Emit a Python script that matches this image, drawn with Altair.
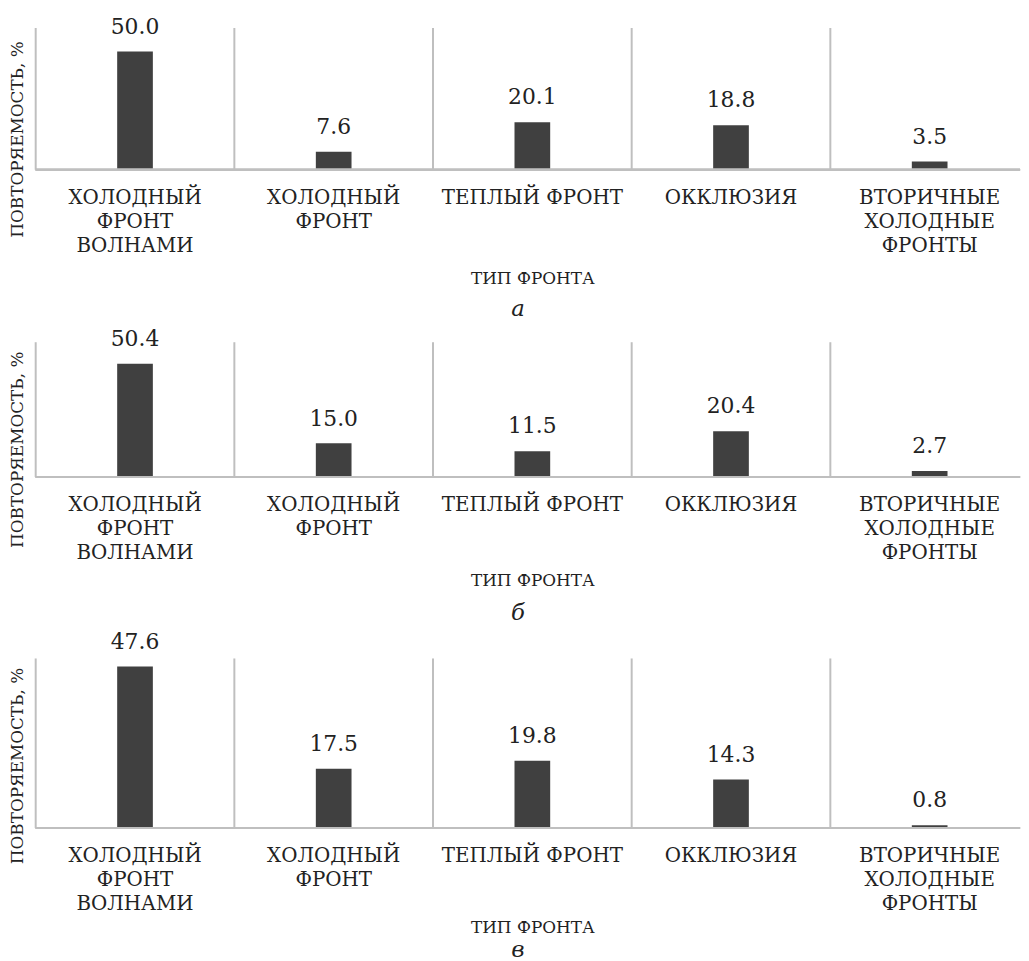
import altair as alt
import pandas as pd

categories = [
    "ХОЛОДНЫЙ\nФРОНТ\nВОЛНАМИ",
    "ХОЛОДНЫЙ\nФРОНТ",
    "ТЕПЛЫЙ ФРОНТ",
    "ОККЛЮЗИЯ",
    "ВТОРИЧНЫЕ\nХОЛОДНЫЕ\nФРОНТЫ",
]
values_a = [50.0, 7.6, 20.1, 18.8, 3.5]
values_b = [50.4, 15.0, 11.5, 20.4, 2.7]
values_c = [47.6, 17.5, 19.8, 14.3, 0.8]
panel_letters = ["а", "б", "в"]
y_max = [60, 60, 50]
heights = [143, 136, 171]
title_y = [112, 108, 108]
x_title_pad = [16, 10, 6]
letter_offset = [12, 14, 4]

FONT = "DejaVu Serif"
TXT = "#222222"
GRID = "#bfbfbf"
BAR = "#404040"
W = 993


def panel(vals, letter, ymax, h, ty, xtp, lo):
    df = pd.DataFrame({
        "cat": categories,
        "val": vals,
        "label": [f"{v:.1f}" for v in vals],
    })
    xsc = alt.Scale(domain=categories, range=[0, 1002], paddingInner=0, paddingOuter=0)
    ysc = alt.Scale(domain=[0, ymax], nice=False)
    x = alt.X(
        "cat:N",
        scale=xsc,
        axis=alt.Axis(
            title="ТИП ФРОНТА",
            domain=False,
            ticks=False,
            grid=False,
            labelAngle=0,
            labelExpr="split(datum.label, '\\n')",
            labelFont=FONT,
            labelFontSize=20,
            labelLineHeight=24,
            labelPadding=18,
            labelLimit=400,
            labelColor=TXT,
            titleFont=FONT,
            titleFontSize=17,
            titleFontWeight="normal",
            titleColor=TXT,
            titlePadding=xtp,
        ),
    )
    y = alt.Y(
        "val:Q",
        scale=ysc,
        axis=alt.Axis(
            title="ПОВТОРЯЕМОСТЬ, %",
            labels=False,
            ticks=False,
            domain=False,
            grid=False,
            titleFont=FONT,
            titleFontSize=17,
            titleFontWeight="normal",
            titleColor=TXT,
            titleAngle=270,
            titleX=-18,
            titleY=ty,
            titleAlign="center",
            titleBaseline="middle",
        ),
    )
    base = alt.Chart(df)
    grid = base.mark_rule(color=GRID, strokeWidth=2).encode(
        x=alt.X("cat:N", bandPosition=0),
        y=alt.datum(ymax),
        y2=alt.datum(0),
    )
    bars = base.mark_bar(size=36, color=BAR).encode(x=x, y=y)
    baseline = base.mark_rule(color=GRID, strokeWidth=2).encode(
        x=alt.value(0), x2=alt.value(W), y=alt.datum(0)
    )
    text = base.mark_text(
        font=FONT, fontSize=22, color=TXT, baseline="alphabetic", dy=-18
    ).encode(x="cat:N", y="val:Q", text="label:N")
    return alt.layer(bars, grid, baseline, text).properties(
        width=W,
        height=h,
        title=alt.TitleParams(
            text=letter,
            orient="bottom",
            anchor="middle",
            font=FONT,
            fontStyle="italic",
            fontSize=23,
            fontWeight="normal",
            color=TXT,
            dx=-10,
            offset=lo,
        ),
    )


panels = [
    panel(*args)
    for args in zip([values_a, values_b, values_c], panel_letters, y_max, heights, title_y,
                    x_title_pad, letter_offset)
]

chart = alt.vconcat(*panels, spacing=6).properties(
    padding={"left": 8, "top": 11, "right": 0, "bottom": 0},
    background="white",
).configure_view(stroke=None)

chart.save("out.html", embed_options={"renderer": "svg", "actions": False})
